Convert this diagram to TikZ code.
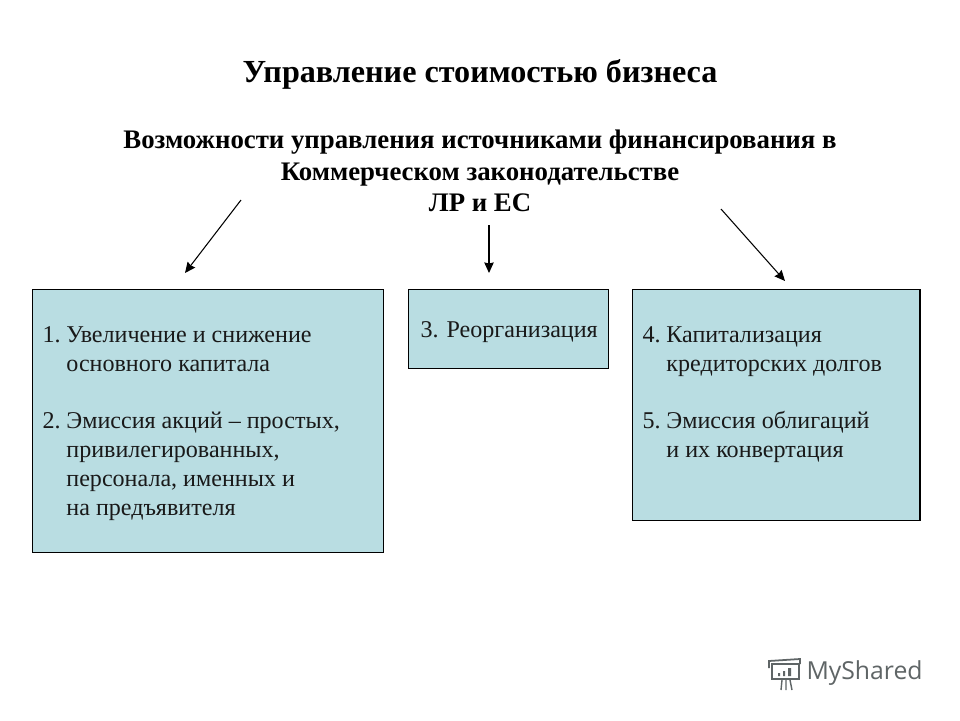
\documentclass[tikz,border=0pt]{standalone}
\usepackage{fontspec}
\setmainfont{Liberation Serif}
\setsansfont{Open Sans}
\usepackage{xcolor}
\definecolor{colorBox}{HTML}{B9DDE2}
\definecolor{colorMark}{HTML}{5F6566}
\usetikzlibrary{arrows.meta, positioning}
\newcommand{\numitem}[1]{\makebox[13.6pt][l]{#1}}
\tikzset{
  boxnode/.style={draw=black, fill=colorBox, line width=0.6pt, minimum height=#1, inner sep=0pt, anchor=north west},
  boxtext/.style={anchor=north west, align=left, inner sep=0pt, font=\fontsize{13.7pt}{16.4pt}\selectfont, text=black!90},
  headnode/.style={align=center, inner sep=0pt, font=\fontsize{15.25pt}{17.8pt}\selectfont\bfseries},
}
\begin{document}
\begin{tikzpicture}[>={Stealth[length=6pt, width=5.4pt, inset=0.6pt]}, x=0.02cm, y=-0.02cm, line width=0.6pt]
\useasboundingbox (0,0) rectangle (960,720);
\fill[white] (0,0) rectangle (960,720);
\node[headnode, font=\fontsize{18.3pt}{21pt}\selectfont\bfseries] (title) at (480,74.5) {Управление стоимостью бизнеса};
\node[headnode] (head) at (480,171) {Возможности управления источниками финансирования в\\Коммерческом законодательстве\\ЛР и ЕС};
\node[boxnode=149.9pt, minimum width=199.8pt] (left) at (32,289) {};
\node[boxnode=45.4pt, minimum width=113.6pt] (middle) at (408,288.5) {};
\node[boxnode=131.2pt, minimum width=163.6pt] (right) at (632,289) {};
\node[boxtext] (lefttext) at (42,326) {\numitem{1.}Увеличение и снижение\\\numitem{}основного капитала\\[16.4pt]\numitem{2.}Эмиссия акций -- простых,\\\numitem{}привилегированных,\\\numitem{}персонала, именных и\\\numitem{}на предъявителя};
\node[boxtext] (middletext) at (420,321) {3. Реорганизация};
\node[boxtext] (righttext) at (642,326) {\numitem{4.}Капитализация\\\numitem{}кредиторских долгов\\[16.4pt]\numitem{5.}Эмиссия облигаций\\\numitem{}и их конвертация};
\coordinate (leftstart) at (241,200);
\coordinate (leftend) at (185,273);
\coordinate (middlestart) at (489,225);
\coordinate (middleend) at (489,273);
\coordinate (rightstart) at (721,209);
\coordinate (rightend) at (785,281);
\draw [->] (leftstart) -- (leftend);
\draw [->] (middlestart) -- (middleend);
\draw [->] (rightstart) -- (rightend);
% watermark
\node[anchor=west, inner sep=0pt, text=colorMark, font=\sffamily\fontsize{14.1pt}{16pt}\selectfont] (mark) at (806,673) {MyShared};
\draw[colorMark, line width=1pt] (772,664) rectangle (799,679);
\draw[colorMark, line width=1pt] (769,668) -- (769,661) -- (800,659) -- (800,664);
\fill[colorMark] (778,673) rectangle (780,676) (783,671) rectangle (785,676) (788,668) rectangle (791,676);
\draw[colorMark, line width=0.8pt] (782,680) -- (781,690) (786,680) -- (786,690) (790,680) -- (792,690);
\end{tikzpicture}
\end{document}
